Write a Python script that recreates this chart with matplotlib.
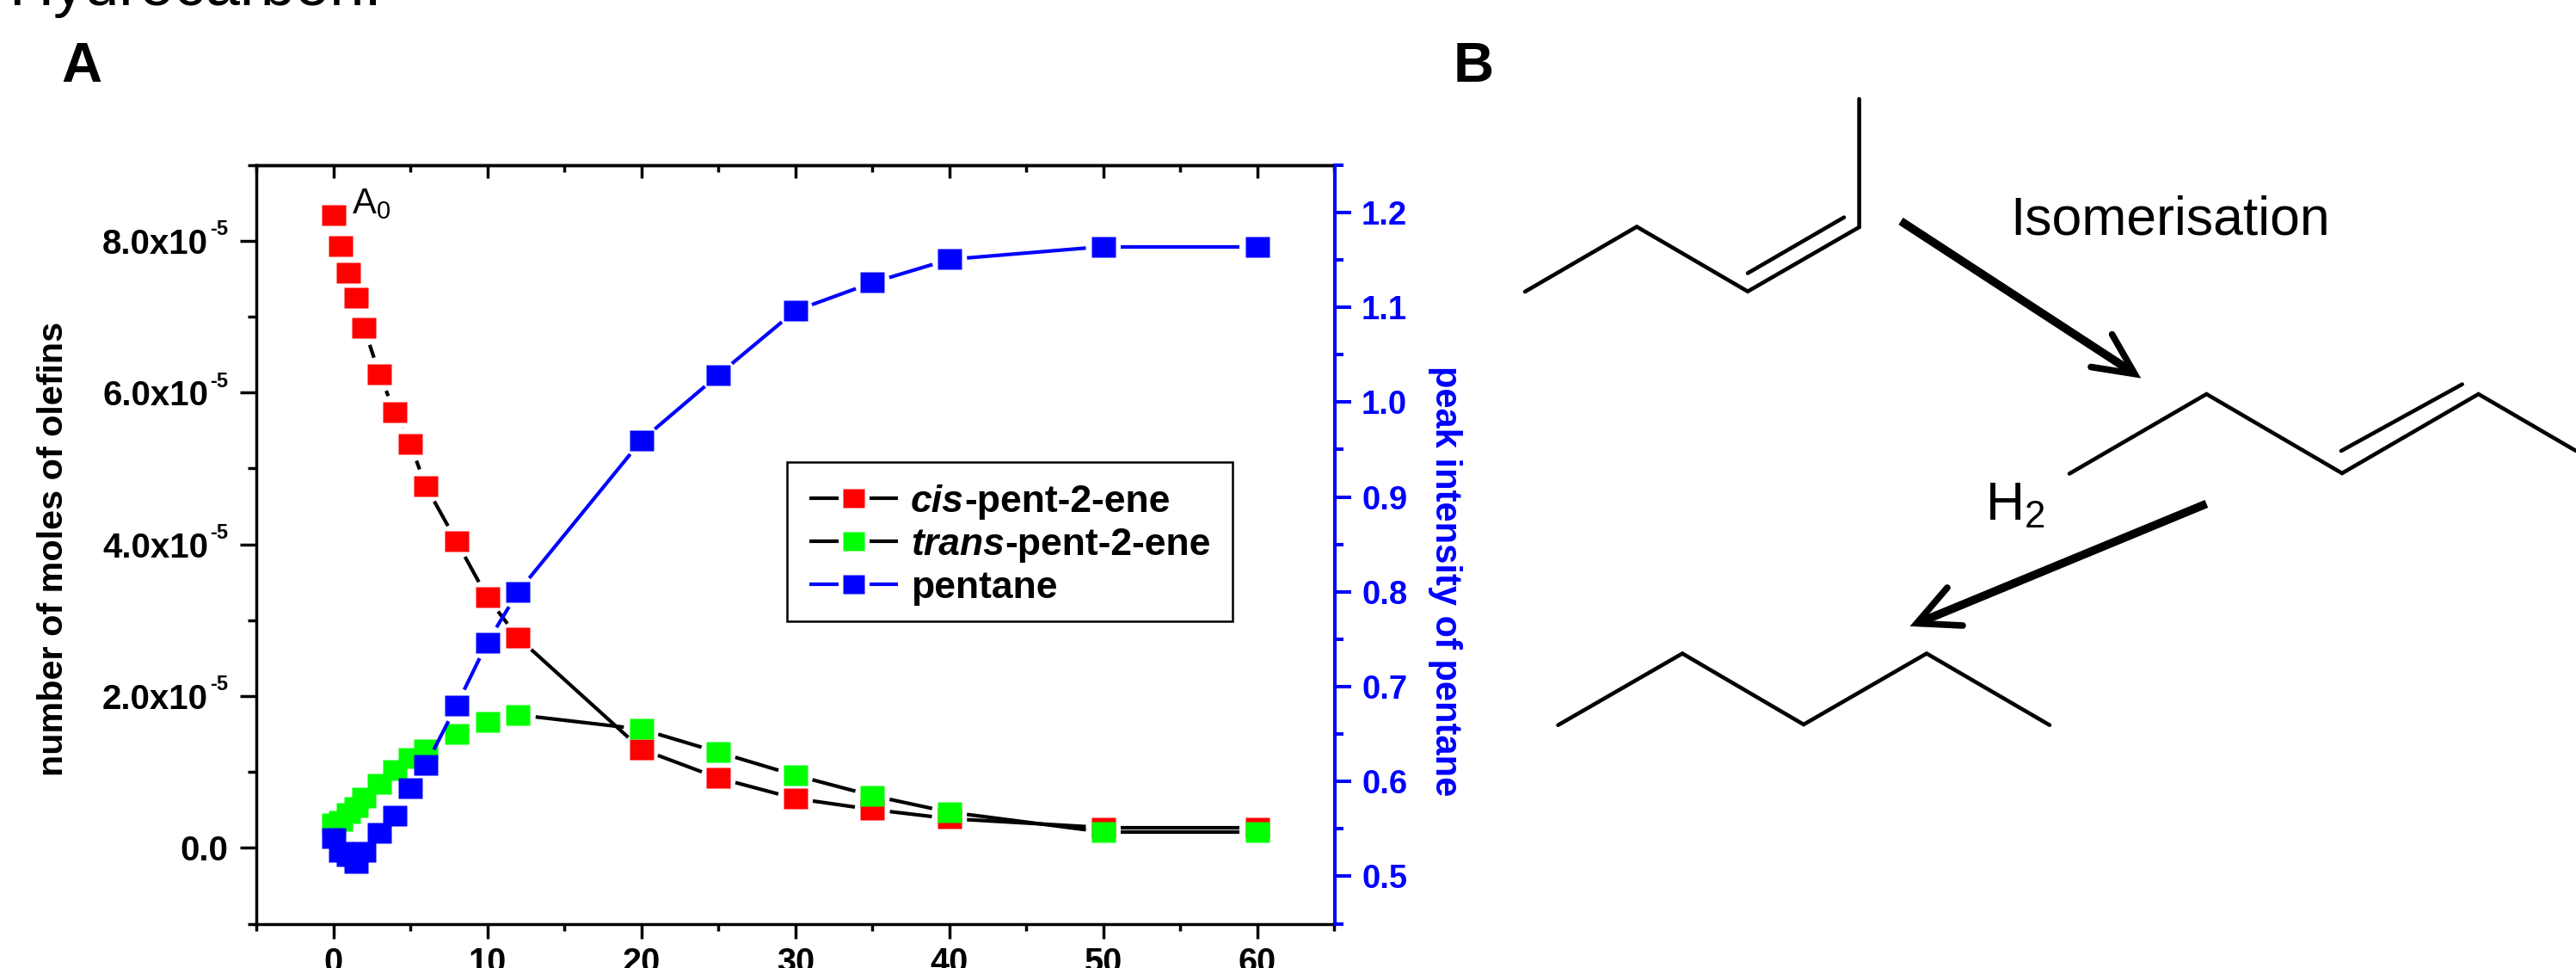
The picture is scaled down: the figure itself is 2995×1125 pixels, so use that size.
import numpy as np
import matplotlib
matplotlib.use('Agg')
import matplotlib.pyplot as plt
from matplotlib.path import Path
from matplotlib.patches import Rectangle
from matplotlib.ticker import MultipleLocator, FixedLocator, FixedFormatter

plt.rcParams['font.family'] = ['Liberation Sans', 'DejaVu Sans']
plt.rcParams['mathtext.fontset'] = 'custom'
plt.rcParams['mathtext.rm'] = 'Liberation Sans'

# time axis
t = [0, 0.5, 1, 1.5, 2, 3, 4, 5, 6, 8, 10, 12, 20, 25, 30, 35, 40, 50, 60]

# moles of olefins, in units of 1e-5
cis = [8.34, 7.93, 7.58, 7.25, 6.85, 6.24, 5.74, 5.32, 4.77, 4.04, 3.30, 2.77,
       1.30, 0.92, 0.65, 0.505, 0.385, 0.267, 0.267]
trans = [0.32, 0.36, 0.46, 0.54, 0.656, 0.842, 1.027, 1.18, 1.295, 1.506, 1.665, 1.752,
         1.564, 1.26, 0.956, 0.688, 0.47, 0.208, 0.208]
# peak intensity, right axis
pentane = [0.540, 0.526, 0.521, 0.514, 0.526, 0.546, 0.564, 0.593, 0.617, 0.680, 0.7466, 0.800,
           0.9595, 1.0287, 1.0964, 1.126, 1.1505, 1.164, 1.164]

xticks = [0, 10, 20, 30, 40, 50, 60]
yticks = [0, 2e-5, 4e-5, 6e-5, 8e-5]
ylabels = ['0.0', '2.0x10', '4.0x10', '6.0x10', '8.0x10']

legend_colors = ['red', 'lime', 'blue']
legend_lines = ['black', 'black', 'blue']
leg_txt = [('cis', '-pent-2-ene'), ('trans', '-pent-2-ene'), ('', 'pentane')]

# panel B drawing, in image pixels
cis_chain = [(1773, 339), (1903, 263.5), (2032, 338.7), (2161.6, 264), (2161.6, 115)]
cis_bond = [(2032, 317.5), (2144, 252.6)]
trans_chain = [(2406, 550.5), (2565.4, 458), (2723, 550), (2881.6, 458), (2995, 524)]
trans_bond = [(2722, 524), (2862.7, 446.6)]
pentane_chain = [(1811.5, 842.7), (1956, 759.5), (2097, 842), (2240, 759.5), (2383, 842.7)]
arrow1 = [(2210, 257), (2480, 433)]
arrow1_head = [(2455.6, 388.6), (2482, 434.6), (2431, 426.5)]
arrow2 = [(2565.4, 585.5), (2230, 724)]
arrow2_head = [(2264, 683), (2228.5, 724.4), (2282, 727)]

fig = plt.figure(figsize=(29.95, 11.25), dpi=100)
ax1 = fig.add_axes([298/2995, 1-1073.5/1125, (1551.5-298)/2995, (1073.5-191.8)/1125])
ax2 = ax1.twinx()
ax1.set_zorder(1)
ax2.set_zorder(2)
ax1.patch.set_visible(False)
ax2.patch.set_visible(False)

ax1.set_xlim(-5, 65)
ax1.set_ylim(-1e-5, 9e-5)
ax2.set_ylim(0.45, 1.25)


def gapped(ax, xs, ys, color, gap=20.5):
    # line stops short of each symbol, like origin does it
    pts = ax.transData.transform(np.column_stack([xs, ys]))
    for i in range(len(xs) - 1):
        d = np.hypot(*(pts[i+1] - pts[i]))
        if d <= 2*gap:
            continue
        f = gap/d
        ax.plot([xs[i] + f*(xs[i+1]-xs[i]), xs[i+1] - f*(xs[i+1]-xs[i])],
                [ys[i] + f*(ys[i+1]-ys[i]), ys[i+1] - f*(ys[i+1]-ys[i])],
                color=color, lw=3, solid_capstyle='butt', zorder=2)


box = Path([(-1, -0.88), (1, -0.88), (1, 0.88), (-1, 0.88), (-1, -0.88)], closed=True)

cis5 = [v*1e-5 for v in cis]
trans5 = [v*1e-5 for v in trans]
gapped(ax1, t, cis5, 'black')
gapped(ax1, t, trans5, 'black')
gapped(ax2, t, pentane, 'blue')
ax1.plot(t, cis5, ls='none', marker=box, ms=20.4, mfc='red', mec='none', zorder=3)
ax1.plot(t, trans5, ls='none', marker=box, ms=20.4, mfc='lime', mec='none', zorder=4)
ax2.plot(t, pentane, ls='none', marker=box, ms=20.4, mfc='blue', mec='none', zorder=4)

# axes
for s in ax1.spines.values():
    s.set_linewidth(2.5)
ax1.spines['right'].set_visible(False)
for name in ['left', 'top', 'bottom']:
    ax2.spines[name].set_visible(False)
ax2.spines['right'].set_color('blue')
ax2.spines['right'].set_linewidth(2.9)

ax1.xaxis.set_major_locator(FixedLocator(xticks))
ax1.xaxis.set_minor_locator(MultipleLocator(5))
ax1.yaxis.set_major_locator(FixedLocator(yticks))
ax1.yaxis.set_major_formatter(FixedFormatter(ylabels))
ax1.yaxis.set_minor_locator(MultipleLocator(1e-5))
ax1.tick_params(axis='x', which='major', length=12, width=2.5, pad=7, labelsize=28.5)
ax1.tick_params(axis='x', which='minor', length=6, width=2.5)
ax1.tick_params(axis='y', which='major', length=13.7, width=2.5, pad=26.6, labelsize=29)
ax1.tick_params(axis='y', which='minor', length=7, width=2.5)
ax1.yaxis.get_major_ticks()[0].set_pad(10)
for lab in ax1.get_xticklabels() + ax1.get_yticklabels():
    lab.set_fontweight('bold')

# superscript exponents next to the 'x10' labels
for v in yticks[1:]:
    ax1.annotate('-5', xy=(0, v), xycoords=ax1.get_yaxis_transform(), xytext=(-38.9, 4.75),
                 textcoords='offset points', fontsize=17, fontweight='bold', ha='left', va='baseline')

top = ax1.secondary_xaxis('top')
top.xaxis.set_major_locator(FixedLocator(xticks))
top.xaxis.set_minor_locator(MultipleLocator(5))
top.tick_params(axis='x', which='major', direction='in', length=11, width=2.5, labelsize=0, labeltop=False)
top.tick_params(axis='x', which='minor', direction='in', length=5.5, width=2.5)
top.spines['top'].set_linewidth(2.5)

ax2.yaxis.set_major_locator(MultipleLocator(0.1))
ax2.yaxis.set_minor_locator(MultipleLocator(0.05))
ax2.tick_params(axis='y', which='major', length=13.7, width=2.9, pad=9, labelsize=27.5,
                color='blue', labelcolor='blue')
ax2.tick_params(axis='y', which='minor', length=7, width=2.9, color='blue')
for lab in ax2.get_yticklabels():
    lab.set_fontweight('bold')

# everything else goes on an overlay in image pixels
ov = fig.add_axes([0, 0, 1, 1], zorder=5)
ov.set_xlim(0, 2995)
ov.set_ylim(1125, 0)
ov.axis('off')

ov.text(62, 638, 'number of moles of olefins', rotation=90, fontsize=29.8, fontweight='bold',
        ha='center', va='center')
ov.text(1680, 675, 'peak intensity of pentane', rotation=-90, fontsize=30, fontweight='bold',
        color='blue', ha='center', va='center')
ov.text(71, 95, 'A', fontsize=47, fontweight='bold', ha='left', va='baseline')
ov.text(1690, 95, 'B', fontsize=47, fontweight='bold', ha='left', va='baseline')
ov.text(10, 6, 'Hydrocarbon.', fontsize=52, ha='left', va='baseline')
ov.text(409, 248, r'$\mathregular{A_0}$', fontsize=30, ha='left', va='baseline')

# legend
ov.add_patch(Rectangle((915, 537), 518, 185, fc='white', ec='black', lw=1.8))
leg_y = [579, 629, 678.6]
for y, c, lc, (it, rest) in zip(leg_y, legend_colors, legend_lines, leg_txt):
    ov.plot([941, 975], [y, y], color=lc, lw=3, solid_capstyle='butt')
    ov.plot([1011, 1044], [y, y], color=lc, lw=3, solid_capstyle='butt')
    ov.plot([992], [y], ls='none', marker=box, ms=18, mfc=c, mec='none')
    xt = 1059
    if it:
        tx = ov.text(xt, y, it, fontsize=32, fontweight='bold', style='italic', ha='left', va='center_baseline')
        fig.canvas.draw()
        bb = tx.get_window_extent()
        xt = ov.transData.inverted().transform((bb.x1, 0))[0]
    ov.text(xt, y, rest, fontsize=32, fontweight='bold', ha='left', va='center_baseline')

# panel B
for chain in [cis_chain, cis_bond, trans_chain, trans_bond, pentane_chain]:
    xs, ys = zip(*chain)
    ov.plot(xs, ys, color='black', lw=3.3, solid_joinstyle='miter', solid_capstyle='round')
for shaft, head in [(arrow1, arrow1_head), (arrow2, arrow2_head)]:
    xs, ys = zip(*shaft)
    ov.plot(xs, ys, color='black', lw=7, solid_capstyle='butt')
    xs, ys = zip(*head)
    ov.plot(xs, ys, color='black', lw=5.5, solid_joinstyle='miter', solid_capstyle='round')

ov.text(2337, 272.7, 'Isomerisation', fontsize=45, ha='left', va='baseline')
ov.text(2308, 604.5, r'$\mathregular{H_2}$', fontsize=45, ha='left', va='baseline')

fig.savefig('out.png', dpi=100)
